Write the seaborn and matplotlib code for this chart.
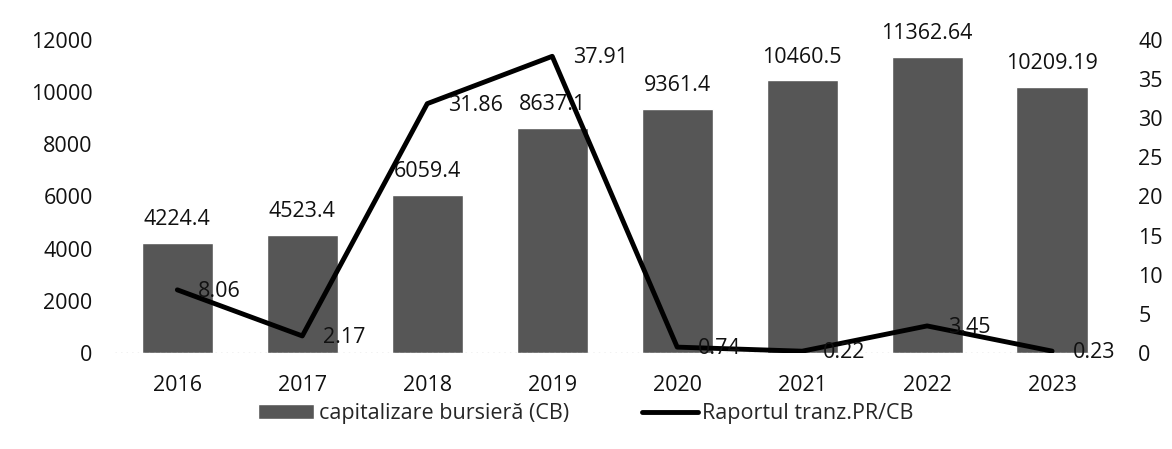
import pandas as pd
import matplotlib.pyplot as plt
import seaborn as sns

years = ["2016", "2017", "2018", "2019", "2020", "2021", "2022", "2023"]
cap_bursiera = [4224.4, 4523.4, 6059.4, 8637.1, 9361.4, 10460.5, 11362.64, 10209.19]
raport = [8.06, 2.17, 31.86, 37.91, 0.74, 0.22, 3.45, 0.23]
cap_labels = ["4224.4", "4523.4", "6059.4", "8637.1", "9361.4", "10460.5", "11362.64", "10209.19"]
raport_labels = ["8.06", "2.17", "31.86", "37.91", "0.74", "0.22", "3.45", "0.23"]

df = pd.DataFrame({"an": years, "cb": cap_bursiera, "raport": raport})
df["pos"] = range(len(df))

sns.set_theme(style="white")
plt.rcParams["font.family"] = ["Open Sans", "DejaVu Sans"]
fs = 15.5

fig = plt.figure(figsize=(11.72, 4.49), dpi=100)
ax = fig.add_axes([0.098, 0.214, 0.853, 0.697])

sns.barplot(df, x="an", y="cb", color="#565656", width=0.57, saturation=1,
            ax=ax, label="capitalizare bursieră (CB)")
ax.set_ylim(0, 12000)
ax.set_yticks(range(0, 12001, 2000))
ax.set_xlabel("")
ax.set_ylabel("")
ax.tick_params(axis="both", labelsize=fs, colors="#111111", length=0)
ax.tick_params(axis="x", pad=16)
ax.tick_params(axis="y", pad=16)
for side in ax.spines:
    ax.spines[side].set_visible(False)
ax.axhline(0, color="#bbbbbb", lw=1, ls=(0, (1, 3)))

for p, v, lab in zip(df["pos"], df["cb"], cap_labels):
    ax.annotate(lab, (p, v), xytext=(0, 9), textcoords="offset points",
                ha="center", va="bottom", fontsize=fs, color="#111111")

ax2 = ax.twinx()
sns.lineplot(df, x="pos", y="raport", color="black", lw=3.5, ax=ax2,
             label="Raportul tranz.PR/CB")
ax2.set_ylim(0, 40)
ax2.set_yticks(range(0, 41, 5))
ax2.set_ylabel("")
ax2.set_xlabel("")
ax2.tick_params(axis="y", labelsize=fs, colors="#111111", length=0, pad=17)
for side in ax2.spines:
    ax2.spines[side].set_visible(False)
ax2.set_xlim(-0.5, len(years) - 0.5)

for p, v, lab in zip(df["pos"], df["raport"], raport_labels):
    ax2.annotate(lab, (p, v), xytext=(15, -1), textcoords="offset points",
                 ha="left", va="center", fontsize=fs, color="#111111")

ax2.get_legend().remove()
h1, l1 = ax.get_legend_handles_labels()
h2, l2 = ax2.get_legend_handles_labels()
fig.legend(h1 + h2, l1 + l2, loc="center", bbox_to_anchor=(0.5, 0.078),
           ncol=2, frameon=False, fontsize=fs, handlelength=2.6,
           handletextpad=0.2, columnspacing=3.4)
if ax.get_legend():
    ax.get_legend().remove()

fig.savefig("out.png", dpi=100)
